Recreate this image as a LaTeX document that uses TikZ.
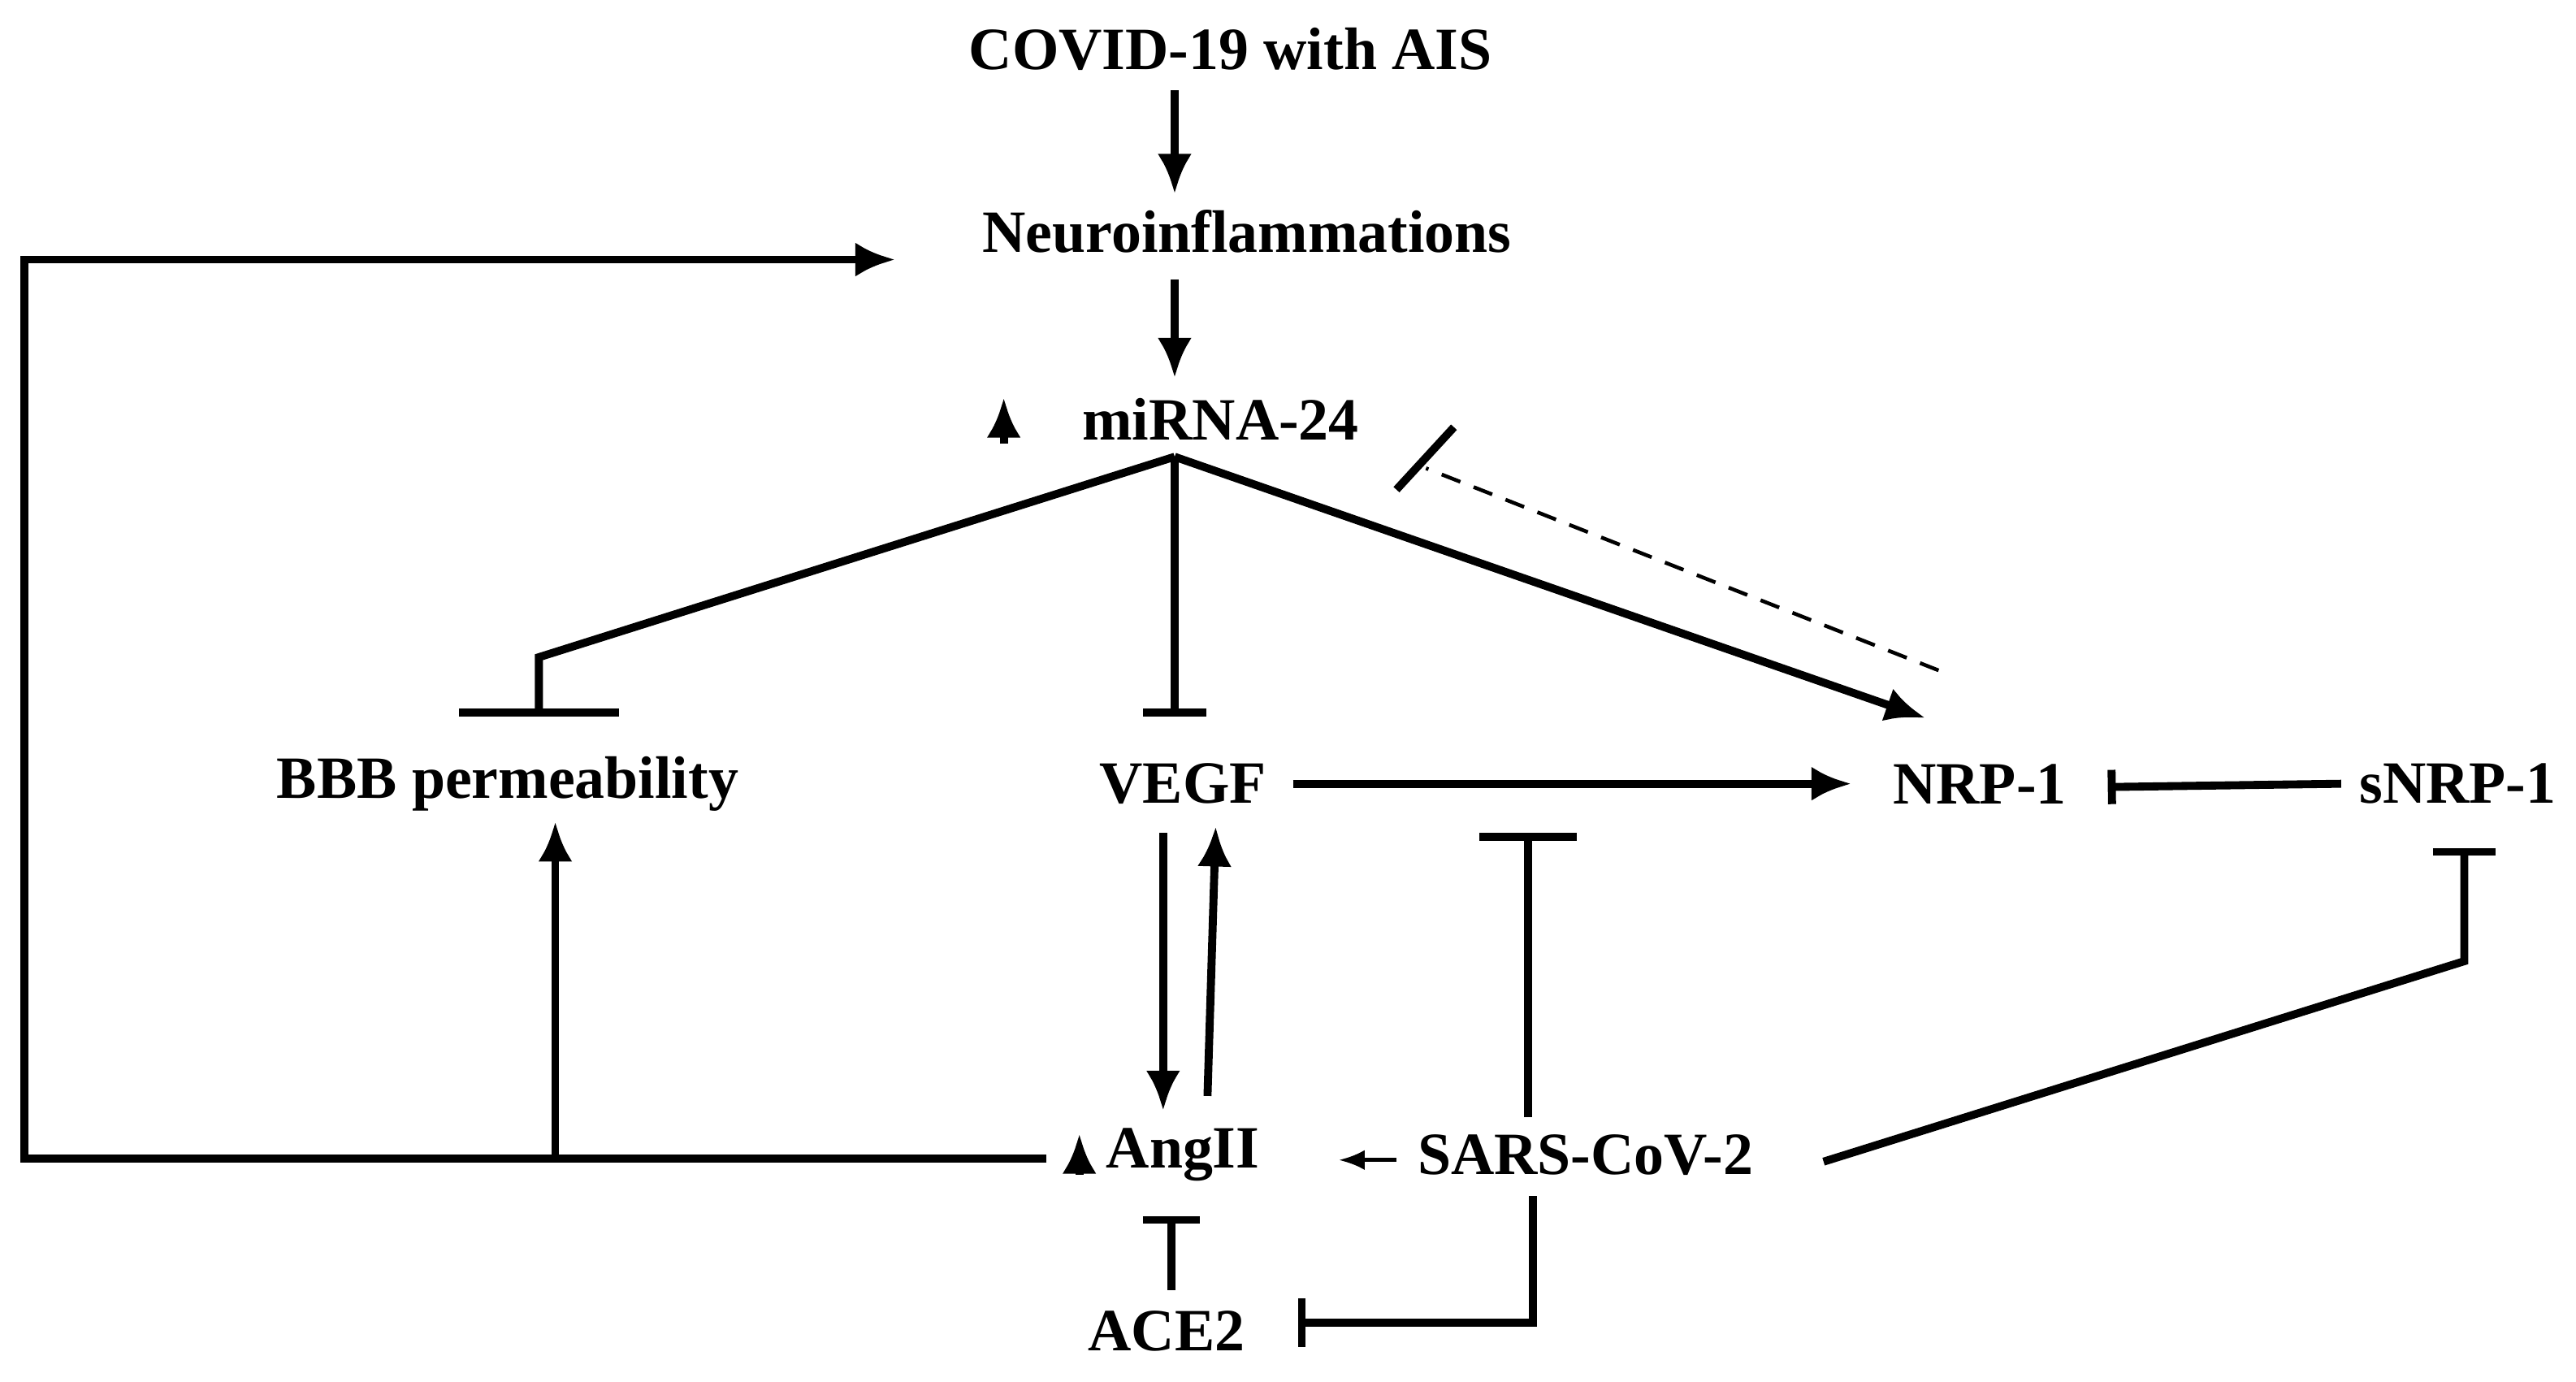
\documentclass[tikz,border=0pt]{standalone}
\usepackage{fontspec}
\setmainfont{Liberation Serif}
\usetikzlibrary{arrows.meta}
\begin{document}
\begin{tikzpicture}[x=0.02022cm,y=-0.02022cm,
  lbl/.style={font=\fontsize{21}{24}\selectfont\bfseries, inner sep=0pt},
  ln/.style={line width=2.8pt},
  arr/.style={ln,-{Latex[length=14pt,width=12pt]}},
  inh/.style={ln,-{Bar[width=#1,line width=2.8pt]}},
  inh/.default=24pt]
\useasboundingbox (0,0) rectangle (1568,841);
\node[lbl] (covid) at (749,30) {COVID-19 with AIS};
\node[lbl] (neuro) at (759,141) {Neuroinflammations};
\node[lbl] (mirna) at (743,255) {miRNA-24};
\node[lbl] (bbb) at (309,477) {BBB permeability};
\node[lbl] (vegf) at (720,477) {VEGF};
\node[lbl] (nrp) at (1205,477) {NRP-1};
\node[lbl] (snrp) at (1496,477) {sNRP-1};
\node[lbl] (ang) at (720,703) {AngII};
\node[lbl] (sars) at (965,703) {SARS-CoV-2};
\node[lbl] (ace) at (710,810) {ACE2};
\coordinate (j) at (715,278);
\coordinate (bbbtop) at (328,436);
\coordinate (vegftop) at (715,436);
\coordinate (nrpin) at (1172,437);
\coordinate (l1) at (15,705);
\coordinate (l2) at (15,158);
\coordinate (l3) at (545,158);
\coordinate (bbbj) at (338,705);
\coordinate (bbbin) at (338,500);
\coordinate (sv) at (930,507);
\coordinate (s1) at (1500,585);
\coordinate (s2) at (1500,516);
\coordinate (ac1) at (933,805);
\coordinate (ac2) at (790,805);

\draw[arr] (715,55) -- (715,118);
\draw[arr] (715,170) -- (715,230);
\draw[arr] (611,270) -- (611,242);
\draw[inh=80pt*0.2835/0.2835*0.7] (j) -- (328,400) -- (bbbtop);
\draw[inh=22pt] (j) -- (vegftop);
\draw[arr] (j) -- (nrpin);
\draw[line width=1.3pt,dash pattern=on 7pt off 5pt] (1180,408) -- (868,285);
\draw[ln] (850,298) -- (885,260);
\draw[arr] (787,477) -- (1127,477);
\draw[inh=12pt] (1425,477) -- (1283,479);
\draw[inh=34pt] (930,680) -- (sv);
\draw[inh=22pt] (1110,707) -- (s1) -- (s2);
\draw[arr] (708,507) -- (708,676);
\draw[arr] (735,667) -- (740,503);
\draw[arr] (657,715) -- (657,690);
\draw[line width=1.3pt,-{Latex[length=9pt,width=7pt]}] (850,706) -- (815,706);
\draw[arr] (637,705) -- (l1) -- (l2) -- (l3);
\draw[arr] (bbbj) -- (bbbin);
\draw[inh=20pt] (713,785) -- (713,740);
\draw[inh=17pt] (933,728) -- (ac1) -- (ac2);
\end{tikzpicture}
\end{document}
